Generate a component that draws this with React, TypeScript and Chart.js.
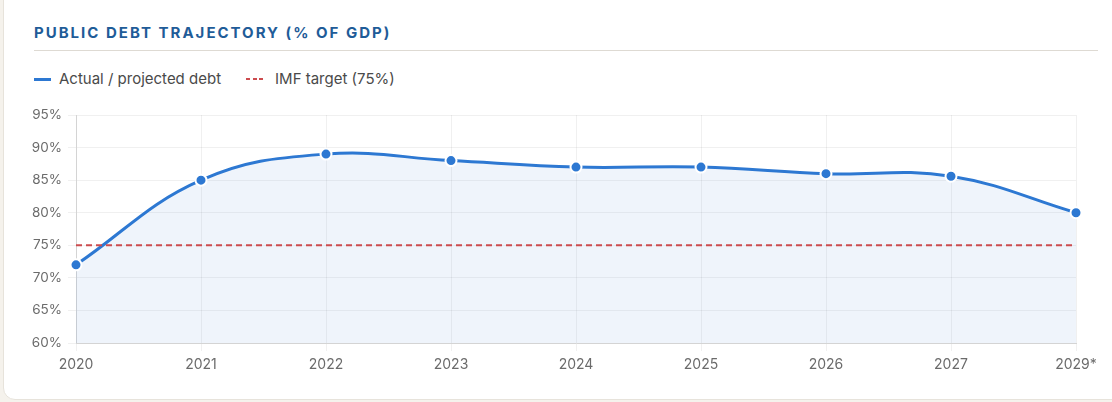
import React, { useEffect, useRef } from "react";
import { Chart, registerables } from "chart.js";

Chart.register(...registerables);

const categories = ["2020", "2021", "2022", "2023", "2024", "2025", "2026", "2027", "2029*"];
const debtValues = [72, 85, 89, 88, 87, 87, 86, 85.6, 80];
const targetValues = [75, 75, 75, 75, 75, 75, 75, 75, 75];
const yTicks = [60, 65, 70, 75, 80, 85, 90, 95];
const seriesLabels = ["Actual / projected debt", "IMF target (75%)"];
const titleText = "PUBLIC DEBT TRAJECTORY (% OF GDP)";

const BLUE = "#2d78d2";
const RED = "#cc4b4e";
const FONT = "Inter, 'Noto Sans', sans-serif";

export default function App() {
  const ref = useRef<HTMLCanvasElement | null>(null);

  useEffect(() => {
    document.body.style.margin = "0";
    document.body.style.background = "#f5f2ec";
    const canvas = ref.current;
    if (!canvas) return;
    const chart = new Chart(canvas, {
      type: "line",
      data: {
        labels: categories,
        datasets: [
          {
            label: seriesLabels[1],
            data: targetValues,
            borderColor: RED,
            borderWidth: 2,
            borderDash: [6, 4],
            pointRadius: 0,
            fill: false,
            tension: 0,
          },
          {
            label: seriesLabels[0],
            data: debtValues,
            borderColor: BLUE,
            borderWidth: 3,
            backgroundColor: "rgba(45,120,210,0.08)",
            fill: "start",
            tension: 0.4,
            pointRadius: 5.5,
            pointBackgroundColor: BLUE,
            pointBorderColor: "#ffffff",
            pointBorderWidth: 2,
          },
        ],
      },
      options: {
        animation: false,
        responsive: false,
        maintainAspectRatio: false,
        layout: { padding: { top: 15, right: 30, bottom: 0, left: 0 } },
        plugins: { legend: { display: false }, tooltip: { enabled: false } },
        scales: {
          x: {
            type: "category",
            offset: false,
            grid: { color: "rgba(0,0,0,0.06)", tickLength: 8, drawTicks: true },
            border: { color: "#d4d4d4", width: 1 },
            ticks: { color: "#6b6b6b", font: { family: FONT, size: 14 }, padding: 5, maxRotation: 0, autoSkip: false },
            afterFit: (axis: any) => {
              axis.height = 47;
            },
          },
          y: {
            min: 60,
            max: 95,
            afterBuildTicks: (axis: any) => {
              axis.ticks = yTicks.map((v) => ({ value: v }));
            },
            grid: { color: "rgba(0,0,0,0.06)", tickLength: 8 },
            border: { color: "#d4d4d4", width: 1 },
            ticks: {
              color: "#6b6b6b",
              font: { family: FONT, size: 13.5 },
              padding: 6,
              callback: (v: any) => v + "%",
            },
            afterFit: (axis: any) => {
              axis.width = 68;
            },
          },
        },
      },
    });
    return () => chart.destroy();
  }, []);

  return (
    <div
      style={{
        position: "absolute",
        left: 3,
        top: -12,
        width: 1125,
        height: 410,
        background: "#ffffff",
        border: "1px solid #e7e3db",
        borderRadius: 12,
        fontFamily: FONT,
      }}
    >
      <div
        style={{
          position: "absolute",
          left: 30,
          top: 34,
          fontSize: 15,
          fontWeight: 700,
          letterSpacing: 2,
          color: "#1f5c98",
          lineHeight: "20px",
        }}
      >
        {titleText}
      </div>
      <div
        style={{
          position: "absolute",
          left: 30,
          top: 61,
          width: 1064,
          height: 1,
          background: "#dedad3",
        }}
      />
      <div
        style={{
          position: "absolute",
          left: 30,
          top: 80,
          display: "flex",
          alignItems: "center",
          fontSize: 15,
          color: "#4a4a4a",
          lineHeight: "20px",
        }}
      >
        <span style={{ display: "inline-block", width: 17, height: 3, background: BLUE, marginRight: 8 }} />
        <span>{seriesLabels[0]}</span>
        <span style={{ display: "inline-flex", marginLeft: 25, marginRight: 12, width: 17, justifyContent: "space-between" }}>
          <span style={{ display: "inline-block", width: 4, height: 2, background: RED }} />
          <span style={{ display: "inline-block", width: 4, height: 2, background: RED }} />
          <span style={{ display: "inline-block", width: 4, height: 2, background: RED }} />
        </span>
        <span>{seriesLabels[1]}</span>
      </div>
      <canvas
        ref={ref}
        width={1098}
        height={290}
        style={{ position: "absolute", left: 4, top: 111, width: 1098, height: 290 }}
      />
    </div>
  );
}
